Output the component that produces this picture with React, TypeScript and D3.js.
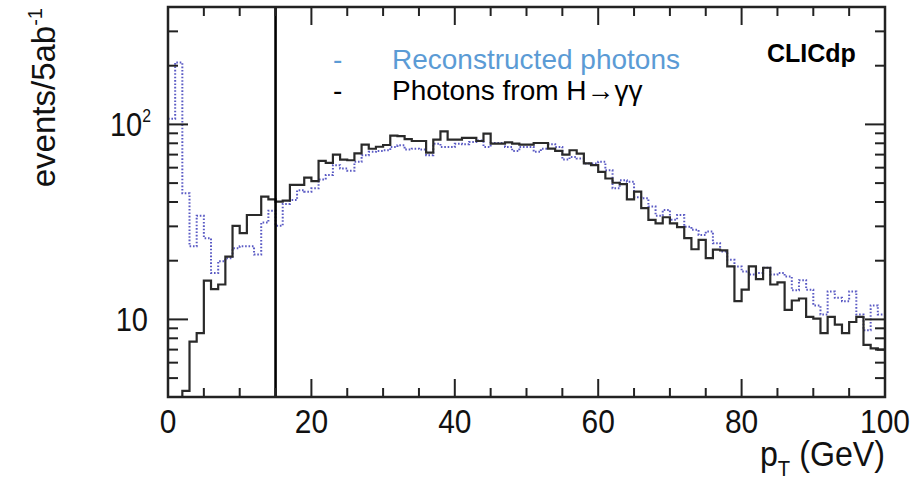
import React from 'react';
import * as d3 from 'd3';

// Histogram bins: 1 GeV wide, from 0 to 100 GeV
const binWidth = 1;
// Photons from H->gammagamma (black, solid)
const photonsHgg = [
  3.5, 3.6, 4.3, 7.7, 8.5, 15.8, 14.3, 15.1, 21.0, 30.2,
  27.7, 34.3, 34.3, 42.6, 41.3, 40.2, 40.7, 49.0, 49.0, 53.4,
  51.2, 65.0, 63.5, 70.0, 66.0, 65.5, 71.0, 78.8, 75.0, 76.8,
  78.4, 87.5, 87.0, 84.0, 82.2, 82.2, 71.7, 83.6, 92.0, 83.6,
  83.6, 85.2, 85.2, 82.2, 89.6, 79.6, 79.6, 80.9, 79.6, 78.8,
  78.8, 80.3, 80.3, 75.1, 73.1, 70.0, 73.7, 70.8, 63.1, 61.8,
  57.1, 52.8, 50.2, 49.4, 41.3, 45.2, 37.2, 32.4, 31.1, 33.4,
  31.1, 29.7, 26.1, 22.9, 25.6, 20.6, 22.8, 22.6, 18.7, 12.4,
  14.2, 18.7, 16.1, 18.4, 15.1, 15.5, 11.2, 12.5, 12.8, 10.3,
  10.1, 8.5, 10.3, 9.4, 8.5, 9.7, 10.3, 7.4, 7.1, 7.0,
];
// Reconstructed photons (blue, dotted)
const recoPhotons = [
  107, 208, 44.3, 23.7, 34.0, 26.1, 17.3, 19.9, 20.6, 23.2,
  23.7, 23.7, 21.5, 31.4, 36.1, 30.2, 39.1, 40.9, 46.0, 45.2,
  47.0, 52.2, 55.0, 61.8, 59.4, 57.8, 64.3, 69.5, 72.3, 73.1,
  73.7, 76.6, 78.1, 74.3, 75.1, 74.3, 69.5, 79.6, 76.6, 76.6,
  79.6, 79.1, 81.2, 82.8, 76.6, 80.3, 80.3, 76.6, 73.1, 76.6,
  76.6, 72.3, 75.1, 79.1, 76.6, 66.1, 68.1, 66.8, 63.1, 63.1,
  64.3, 58.2, 47.0, 51.7, 50.8, 42.3, 41.8, 37.9, 34.0, 36.4,
  32.4, 34.3, 29.9, 28.8, 27.1, 28.2, 24.6, 22.3, 20.2, 18.7,
  17.6, 17.0, 17.3, 18.4, 17.0, 17.3, 16.6, 14.1, 15.9, 14.2,
  11.8, 10.6, 13.9, 12.9, 12.4, 13.9, 10.6, 8.8, 11.8, 10.6,
];

const xMajorTicks = [0, 20, 40, 60, 80, 100];
const xMinorTicks = [5, 10, 15, 25, 30, 35, 45, 50, 55, 65, 70, 75, 85, 90, 95];
const yMajorTicks = [10, 100];
const yMinorTicks = [5, 6, 7, 8, 9, 20, 30, 40, 50, 60, 70, 80, 90, 200, 300];
const cutValue = 15;
const legendLabels = ['Reconstructed photons', 'Photons from H\u2192\u03b3\u03b3'];
const experimentLabel = 'CLICdp';

const FONT = "'Liberation Sans', Arial, Helvetica, sans-serif";

export default function App() {
  const W = 920;
  const H = 479;
  const left = 168, right = 885, top = 7, bottom = 397;
  const x = d3.scaleLinear().domain([0, 100]).range([left, right]);
  const y = d3.scaleLog().domain([4, 400]).range([bottom, top]);

  const stepPath = (vals: number[]) => {
    const pts: [number, number][] = vals.map((v, i) => [i * binWidth, v]);
    pts.push([vals.length * binWidth, vals[vals.length - 1]]);
    return d3
      .line<[number, number]>()
      .x((d) => x(d[0]))
      .y((d) => y(d[1]))
      .curve(d3.curveStepAfter)(pts) as string;
  };

  const majLen = 20, minLen = 10;
  const xMajLen = 18, xMinLen = 9;
  const sx = 0.88;

  return (
    <svg
      width={W}
      height={H}
      style={{ position: 'absolute', left: 0, top: 0, background: '#fff' }}
      fontFamily={FONT}
    >
      <defs>
        <clipPath id="plotArea">
          <rect x={left} y={top} width={right - left} height={bottom - top} />
        </clipPath>
      </defs>
      <rect x={0} y={0} width={W} height={H} fill="#fff" />

      <g clipPath="url(#plotArea)">
        <path
          d={stepPath(recoPhotons)}
          fill="none"
          stroke="#5a5ac4"
          strokeWidth={2}
          strokeDasharray="1.6 1.8"
        />
        <path d={stepPath(photonsHgg)} fill="none" stroke="#2a2a2a" strokeWidth={2.2} />
      </g>

      {/* cut line */}
      <line x1={x(cutValue)} x2={x(cutValue)} y1={top} y2={bottom} stroke="#000" strokeWidth={2.6} />

      {/* ticks */}
      <g stroke="#222" strokeWidth={2}>
        {yMajorTicks.map((t) => (
          <g key={'ym' + t}>
            <line x1={left} x2={left + majLen} y1={y(t)} y2={y(t)} />
            <line x1={right} x2={right - majLen} y1={y(t)} y2={y(t)} />
          </g>
        ))}
        {yMinorTicks.map((t) => (
          <g key={'yn' + t}>
            <line x1={left} x2={left + minLen} y1={y(t)} y2={y(t)} />
            <line x1={right} x2={right - minLen} y1={y(t)} y2={y(t)} />
          </g>
        ))}
        {xMajorTicks.map((t) => (
          <g key={'xm' + t}>
            <line x1={x(t)} x2={x(t)} y1={bottom} y2={bottom - xMajLen} />
            <line x1={x(t)} x2={x(t)} y1={top} y2={top + xMajLen} />
          </g>
        ))}
        {xMinorTicks.map((t) => (
          <g key={'xn' + t}>
            <line x1={x(t)} x2={x(t)} y1={bottom} y2={bottom - xMinLen} />
            <line x1={x(t)} x2={x(t)} y1={top} y2={top + xMinLen} />
          </g>
        ))}
      </g>

      {/* frame */}
      <rect
        x={left}
        y={top}
        width={right - left}
        height={bottom - top}
        fill="none"
        stroke="#222"
        strokeWidth={2.5}
      />

      {/* x tick labels */}
      {xMajorTicks.map((t) => (
        <text
          key={'xl' + t}
          transform={`translate(${x(t)},${433}) scale(${sx},1)`}
          textAnchor="middle"
          fontSize={34}
          fill="#111"
        >
          {t}
        </text>
      ))}

      {/* y tick labels */}
      <text transform={`translate(148,${y(10) + 12}) scale(${sx},1)`} textAnchor="end" fontSize={33} fill="#111">
        10
      </text>
      <text transform={`translate(151,${y(100) + 12}) scale(${sx},1)`} textAnchor="end" fontSize={33} fill="#111">
        10<tspan fontSize={18} dy={-14}>2</tspan>
      </text>

      {/* axis titles */}
      <text transform={`translate(885,466) scale(0.92,1)`} textAnchor="end" fontSize={35} fill="#111">
        p<tspan fontSize={22} dy={10}>T</tspan>
        <tspan dy={-10}> (GeV)</tspan>
      </text>
      <text
        transform={`translate(55,8) rotate(-90)`}
        textAnchor="end"
        fontSize={33}
        fill="#111"
      >
        events/5ab<tspan fontSize={20} dy={-13}>-1</tspan>
      </text>

      {/* legend */}
      <text x={333} y={69} fontSize={28} fill="#5b9bd5">-</text>
      <text x={392} y={69} fontSize={28} fill="#5b9bd5">{legendLabels[0]}</text>
      <text x={333} y={100} fontSize={28} fill="#000">-</text>
      <text x={392} y={100} fontSize={28} fill="#000">{legendLabels[1]}</text>
      <text x={767} y={62} fontSize={25} fontWeight="bold" fill="#000">{experimentLabel}</text>
    </svg>
  );
}
